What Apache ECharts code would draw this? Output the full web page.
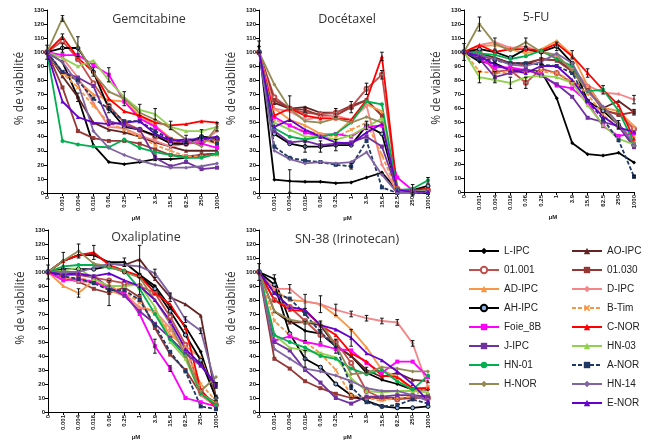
<!DOCTYPE html>
<html><head><meta charset="utf-8">
<script src="https://cdn.jsdelivr.net/npm/echarts@6/dist/echarts.min.js"></script>
<style>html,body{margin:0;padding:0;background:#fff}#c{width:649px;height:445px}</style>
</head><body><div id="c"></div>
<script>
const doses = ['0','0.001','0.004','0.016','0.06','0.25','1','3.9','15.6','62.5','250','1000'];
const panelTitles = ['Gemcitabine','Docétaxel','5-FU','Oxaliplatine','SN-38 (Irinotecan)'];
const lineNames = ['L-IPC','AO-IPC','01.001','01.030','AD-IPC','D-IPC','AH-IPC','B-Tim','Foie_8B','C-NOR','J-IPC','HN-03','HN-01','A-NOR','H-NOR','HN-14','E-NOR'];
const legendLeft = ['L-IPC','01.001','AD-IPC','AH-IPC','Foie_8B','J-IPC','HN-01','H-NOR'];
const legendRight = ['AO-IPC','01.030','D-IPC','B-Tim','C-NOR','HN-03','A-NOR','HN-14','E-NOR'];

// rows follow lineNames order
const gemcitabine = [
  [100,93,68,34,22,20.5,22,24,24,25,27,28],
  [100,83,68,50,45,43,40,36,33,30,30,30],
  [100,108,95,78,62,50,45,40,36,35,37,38],
  [100,75,44,39,37,37,35,31,27,26,27,28],
  [100,85,80,70,66,65,55,48,39,36,38,35],
  [100,96,82,64,47,46,41,37,33,35,36,44],
  [100,103,103,86,60,47,45,41,35,35,40,39],
  [100,85,75,62,50,45,40,34,30,26,26,27],
  [100,98,98,91,84,65,53,47,38,36,35,32],
  [100,111,96,86,67,58,55,50,48,49,51,50],
  [100,86,82,76,51,48,45,25,19,22,17,18],
  [100,96,90,94,80,68,59,56,47,44,44,47],
  [100,37,34.5,33,32.5,38,32,29,27,25,25,28],
  [100,86,80,67,60,51,51,44,38,36,40,35],
  [100,124,104,85,72,67,57,52,46,38,33,47],
  [100,93,78,44,32,27,23,20,18,18,19,21],
  [100,65,54,50,49,50,51,42,37,38,38,40]
];
const docetaxel = [
  [104,9.5,8.5,8,8,7,7.5,11,14.5,2,2,3],
  [100,64,60,61,57,57,62,66,55,2,2,2],
  [100,68,60,57,56,57,61,74,84,3,1,2],
  [100,66,60,59,55,55,61,66,55,2,1,2],
  [100,60,52,48,42,42,52,63,58,1,1,2],
  [100,60,58,52,54,55,52,62,20,1,1,1],
  [100,42,35,33,33,34,34,48,42,2,2,5],
  [100,52,48,44,42,40,45,50,27,1,1,1],
  [100,54,48,43,40,42,40,47,48,11,2,1],
  [100,55,60,55,53,53,52,66,97,2,2,3],
  [100,44,36,37,34,35,36,40,33,2,1,1],
  [100,50,45,40,40,38,41,47,53,1,1,2],
  [100,46,40,38,40,42,50,65,63,2,3,9],
  [100,33,25,23,22,20,19,37,4,0,0,0],
  [100,77,60,51,50,53,50,54,50,1,1,1],
  [100,30,24,21,22,21,22,29,13,0,0,1],
  [100,47,52,45,40,36,35,43,49,2,1,1]
];
const fluorouracil = [
  [100,93,92,87,87,86,67,35,27,26,28,21],
  [100,99,96,92,92,95,94,88,76,60,65,57],
  [100,100,86,87,78,88,85,78,75,58,56,45],
  [100,97,95,92,91,95,94,86,73,59,55,57],
  [100,104,105,102,99,102,108,98,76,60,58,47],
  [100,105,107,103,104,100,96,88,76,71,70,66],
  [100,102,100,96,102,100,104,92,65,58,48,33],
  [100,86,85,85,86,86,85,79,70,55,46,40],
  [100,95,89,89,87,84,76,74,64,47,40,42],
  [100,105,100,102,102,101,106,97,85,73,62,38],
  [100,95,82,85,88,83,77,68,53,50,47,32],
  [100,82,80,78,82,83,82,78,62,48,38,34],
  [100,99,98,95,97,101,95,90,72,73,58,35],
  [100,95,94,92,92,91,90,85,65,52,37,11],
  [100,120,106,101,107,100,98,87,72,60,48,35],
  [100,98,95,91,90,93,99,92,72,61,49,34],
  [100,97,91,87,85,90,90,80,65,54,46,43]
];
const oxaliplatine = [
  [100,108,112,112,107,107,98,90,75,61,43,10],
  [100,108,112,113,106,105,109,95,82,77,69,10],
  [100,98,98,96,94,92,90,85,68,48,15,5],
  [100,96,93,88,85,89,82,60,41,30,13,7],
  [100,90,85,94,87,83,75,72,55,47,39,10],
  [100,97,93,93,90,85,74,72,60,42,12,4],
  [100,102,102,102,104,100,97,88,72,55,37,10],
  [100,95,96,93,90,86,78,70,58,44,20,8],
  [100,94,95,93,88,85,70,47,31,10,7,4],
  [100,108,112,114,105,101,97,85,77,60,16,3],
  [100,100,98,97,89,83,72,63,53,42,33,20],
  [100,101,103,95,90,90,91,75,50,38,13,6],
  [100,104,105,105,103,101,88,70,52,40,13,5],
  [100,97,95,92,87,87,80,62,43,29,4,2],
  [100,108,115,106,104,100,96,80,63,40,15,25],
  [100,100,100,103,106,105,104,99,84,66,58,18],
  [100,98,99,97,99,94,90,80,65,45,34,19]
];
const sn38 = [
  [100,95,65,58,56,47,40,28,23,20,16,16],
  [100,72,64,64,62,47,40,30,25,28,23,22],
  [100,80,75,65,55,50,35,15,10,9,10,10],
  [100,38,31,22,17,13,10,10,10,10,10,12],
  [100,87,80,79,77,69,59,46,30,25,15,18],
  [100,88,88,79,77,73,70,67,65,64,49,18],
  [100,91,56,38,32,20,12,8,4,3,3,4],
  [100,65,55,50,42,30,12,10,8,10,11,18],
  [100,51,54,50,48,45,44,35,28,36,36,25],
  [100,80,73,72,62,55,42,36,26,25,17,17],
  [100,50,44,30,21,10,6,11,11,12,12,11],
  [100,55,46,44,42,39,24,15,14,15,15,14],
  [100,55,50,46,40,38,31,27,30,22,16,26],
  [100,85,81,70,57,47,18,7,4,5,9,6],
  [100,72,66,64,64,48,27,28,32,31,29,29],
  [100,45,38,31,29,26,22,17,15,15,12,8],
  [100,85,75,73,62,59,53,42,37,29,20,8]
];
// error bars: [series name, dose index, half-width]
const gemcitabineErr = [['AH-IPC',0,5],['H-NOR',1,2],['H-NOR',2,7],['C-NOR',1,2],['AH-IPC',1,3],['AH-IPC',3,3],['Foie_8B',4,5],['H-NOR',5,5],['HN-03',6,4],['HN-03',7,4],['C-NOR',8,3],['H-NOR',9,3],['AH-IPC',10,5],['HN-03',11,3],['AO-IPC',2,3],['A-NOR',4,3],['J-IPC',7,2]];
const docetaxelErr = [['L-IPC',0,4],['C-NOR',8,3],['01.001',8,3],['01.001',7,4],['01.001',6,4],['AO-IPC',2,9],['L-IPC',2,8],['AH-IPC',3,4],['AH-IPC',4,4],['AH-IPC',5,4],['A-NOR',6,2],['01.030',3,2],['AH-IPC',7,3],['AO-IPC',5,3],['HN-01',11,2],['L-IPC',10,4]];
const fluorouracilErr = [['AH-IPC',0,6],['H-NOR',1,5],['H-NOR',2,4],['H-NOR',4,3],['HN-03',1,4],['J-IPC',2,4],['01.001',4,4],['AH-IPC',6,3],['AD-IPC',7,3],['C-NOR',8,3],['C-NOR',9,3],['AH-IPC',10,3],['D-IPC',11,3],['01.030',11,2],['A-NOR',11,1],['HN-03',3,4],['AO-IPC',5,4]];
const oxaliplatineErr = [['AH-IPC',0,5],['L-IPC',1,6],['H-NOR',2,5],['C-NOR',3,5],['01.030',4,9],['AO-IPC',6,10],['L-IPC',5,3],['HN-14',7,3],['Foie_8B',7,5],['Foie_8B',8,2],['AO-IPC',8,3],['HN-14',9,2],['HN-14',10,2],['L-IPC',11,2],['E-NOR',11,2],['AD-IPC',2,3],['01.001',6,6]];
const sn38Err = [['AH-IPC',0,6],['L-IPC',1,3],['D-IPC',2,3],['D-IPC',3,5],['D-IPC',4,6],['D-IPC',5,4],['D-IPC',6,2],['D-IPC',7,2],['D-IPC',8,2],['D-IPC',9,2],['D-IPC',10,2],['L-IPC',3,7],['L-IPC',4,6],['AO-IPC',5,5],['E-NOR',6,6],['AO-IPC',7,2],['C-NOR',4,3],['A-NOR',6,2],['AH-IPC',3,6]];

const panels = [gemcitabine, docetaxel, fluorouracil, oxaliplatine, sn38];
const panelErrs = [gemcitabineErr, docetaxelErr, fluorouracilErr, oxaliplatineErr, sn38Err];

const XSYM = 'path://M0,2L2,0L5,3L8,0L10,2L7,5L10,8L8,10L5,7L2,10L0,8L3,5Z';
const styles = {
  'L-IPC':  {color:'#000000', symbol:'diamond'},
  'AO-IPC': {color:'#632523', symbol:'triangle'},
  '01.001': {color:'#c0504d', symbol:'emptyCircle'},
  '01.030': {color:'#953735', symbol:'rect'},
  'AD-IPC': {color:'#f79646', symbol:'triangle'},
  'D-IPC':  {color:'#f4868a', symbol:'diamond'},
  'AH-IPC': {color:'#000000', symbol:'circle', fill:'#8db3e2'},
  'B-Tim':  {color:'#f79646', symbol:XSYM, dashed:true},
  'Foie_8B':{color:'#ff00ff', symbol:'rect'},
  'C-NOR':  {color:'#ff0000', symbol:'triangle'},
  'J-IPC':  {color:'#7030a0', symbol:'rect'},
  'HN-03':  {color:'#92d050', symbol:'triangle'},
  'HN-01':  {color:'#00b050', symbol:'circle'},
  'A-NOR':  {color:'#1f3864', symbol:'rect', dashed:true},
  'H-NOR':  {color:'#948a54', symbol:'diamond'},
  'HN-14':  {color:'#8064a2', symbol:'diamond'},
  'E-NOR':  {color:'#6600cc', symbol:'triangle'}
};

const grids = [
  {left:47, top:10, width:170, height:183},
  {left:259, top:10, width:169, height:183},
  {left:464, top:10, width:170, height:182},
  {left:48, top:230, width:168, height:182},
  {left:259, top:230, width:169, height:182}
];
const titlePos = [[149,19],[347,19],[536,17],[146,237],[347,239]];

const FF = 'Liberation Sans, Arial, sans-serif';
const xAxes = [], yAxes = [], series = [], graphics = [];
panels.forEach((rows, p) => {
  xAxes.push({
    type:'category', gridIndex:p, data:doses, boundaryGap:false,
    name:'µM', nameLocation:'middle', nameGap:21,
    nameTextStyle:{fontSize:6, fontWeight:'bold', color:'#222', fontFamily:FF, padding:[0,0,0,8]},
    axisLine:{lineStyle:{color:'#000', width:1}},
    axisTick:{alignWithLabel:true, length:3, lineStyle:{color:'#000'}},
    axisLabel:{rotate:90, fontSize:6, fontWeight:'bold', color:'#111', margin:3, fontFamily:FF, interval:0},
    splitLine:{show:false}
  });
  yAxes.push({
    type:'value', gridIndex:p, min:0, max:130, interval:10,
    name:'% de viabilité', nameLocation:'middle', nameGap:21, nameRotate:90,
    nameTextStyle:{fontSize:12, color:'#333', fontFamily:'Open Sans, sans-serif', padding:[0,0,0,26]},
    axisLine:{show:true, lineStyle:{color:'#000', width:1}},
    axisTick:{show:true, length:3, lineStyle:{color:'#000'}},
    axisLabel:{fontSize:6, fontWeight:'bold', color:'#111', margin:3, fontFamily:FF},
    splitLine:{show:false}
  });
  graphics.push({type:'text', x:titlePos[p][0], y:titlePos[p][1], z:10,
    style:{text:panelTitles[p], align:'center', verticalAlign:'middle', fontSize:12.5, fontFamily:'Open Sans, sans-serif', fill:'#333'}});
  rows.forEach((vals, i) => {
    const nm = lineNames[i], st = styles[nm];
    series.push({
      type:'line', name:nm, xAxisIndex:p, yAxisIndex:p, data:vals,
      symbol:st.symbol, symbolSize:4, showSymbol:true,
      color:st.color,
      lineStyle:{width:1.8, color:st.color, type: st.dashed ? [4,2] : 'solid'},
      itemStyle: st.fill ? {color:st.fill, borderColor:'#000', borderWidth:1} : {color:st.color},
      emphasis:{disabled:true}, animation:false, z:3
    });
  });
  const errData = panelErrs[p].map(e => {
    const idx = lineNames.indexOf(e[0]);
    return [e[1], rows[idx][e[1]], e[2]];
  });
  series.push({
    type:'custom', name:'err'+p, xAxisIndex:p, yAxisIndex:p, data:errData, z:4, animation:false,
    encode:{x:0, y:1}, silent:true,
    renderItem:(params, api) => {
      const x = api.value(0), y = api.value(1), e = api.value(2);
      const t = api.coord([x, y + e]), b = api.coord([x, y - e]);
      const w = 1.8, s = {stroke:'#111', lineWidth:1};
      return {type:'group', children:[
        {type:'line', shape:{x1:t[0], y1:t[1], x2:b[0], y2:b[1]}, style:s},
        {type:'line', shape:{x1:t[0]-w, y1:t[1], x2:t[0]+w, y2:t[1]}, style:s},
        {type:'line', shape:{x1:b[0]-w, y1:b[1], x2:b[0]+w, y2:b[1]}, style:s}
      ]};
    }
  });
});

const legendCommon = {
  orient:'vertical', itemWidth:30, itemHeight:8, itemGap:7, selectedMode:false, padding:0,
  textStyle:{fontSize:10, color:'#222', fontFamily:FF, lineHeight:12}
};
const chart = echarts.init(document.getElementById('c'), null, {renderer:'canvas'});
chart.setOption({
  backgroundColor:'#fff',
  animation:false,
  grid:grids,
  xAxis:xAxes,
  yAxis:yAxes,
  legend:[
    Object.assign({left:468, top:245, data:legendLeft}, legendCommon),
    Object.assign({left:571, top:245, data:legendRight}, legendCommon)
  ],
  graphic:graphics,
  series:series
});
</script></body></html>
